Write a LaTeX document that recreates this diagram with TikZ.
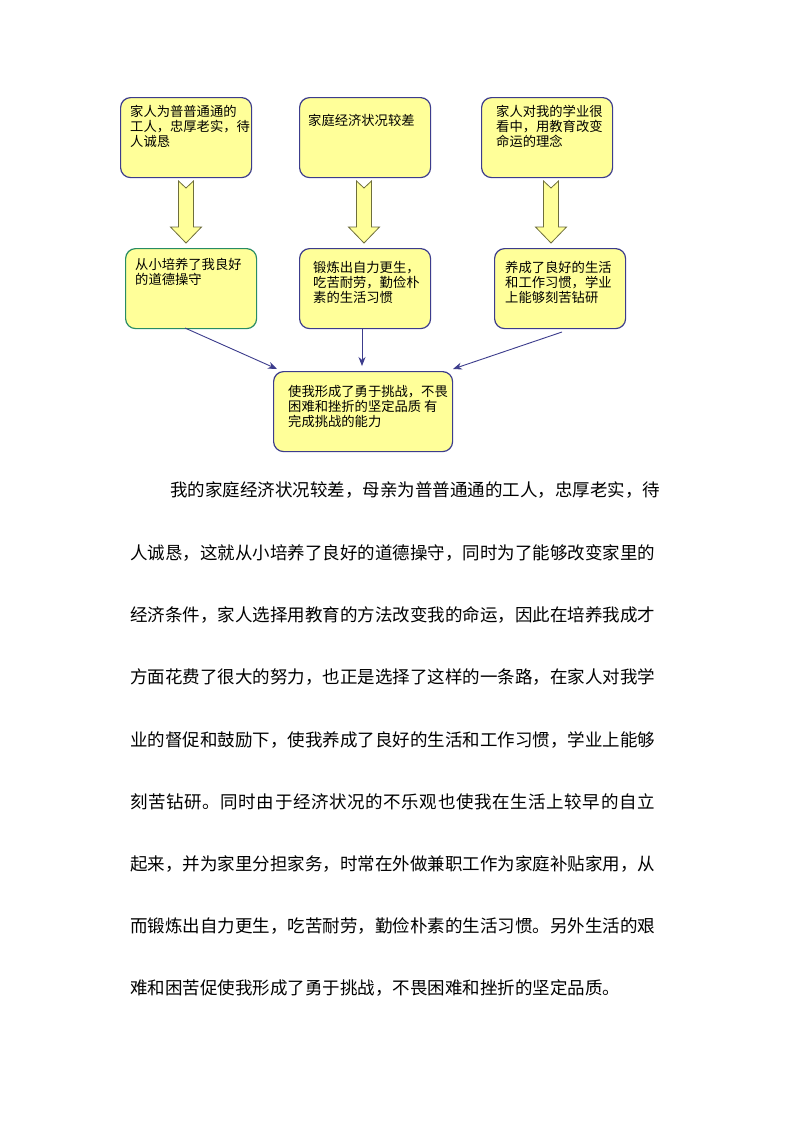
\documentclass[tikz,border=0pt]{standalone}
\usepackage{fontspec}
\newfontfamily\cjk{Noto Sans CJK SC}
\newfontfamily\cjkwide{Noto Sans CJK SC}[LetterSpace=3.5]
\usetikzlibrary{arrows.meta}
\definecolor{boxfill}{RGB}{255,255,153}
\definecolor{boxline}{RGB}{60,60,140}
\definecolor{greenline}{RGB}{40,140,100}
\definecolor{arrline}{RGB}{110,110,60}
\tikzset{
  box/.style={draw=boxline, line width=1.2pt, fill=boxfill, rounded corners=10pt, minimum width=131pt, minimum height=80pt, anchor=north west, inner sep=0pt},
  boxtxt/.style={anchor=north west, align=left, font=\cjk\fontsize{13.3}{15}\selectfont, inner sep=0pt},
  para/.style={anchor=west, font=\cjk\fontsize{17.5}{17.5}\selectfont, inner sep=0pt},
  conn/.style={draw=boxline, line width=0.9pt, -{Stealth[length=9pt,width=7pt]}},
  blockarr/.style={draw=arrline, fill=boxfill, line width=0.8pt}
}
\begin{document}
\begin{tikzpicture}[x=1pt,y=-1pt]
\useasboundingbox[fill=white] (0,0) rectangle (800,1133);
% top row
\node[box] (b1) at (120,97) {};
\node[box] (b2) at (299,97) {};
\node[box] (b3) at (481,97) {};
\node[boxtxt] (t1) at (130,105) {家人为普普通通的\\工人，忠厚老实，待\\人诚恳};
\node[boxtxt] (t2) at (308,114) {家庭经济状况较差};
\node[boxtxt] (t3) at (496,105) {家人对我的学业很\\看中，用教育改变\\命运的理念};
% middle row
\node[box, draw=greenline] (b4) at (125,248) {};
\node[box] (b5) at (299,248) {};
\node[box] (b6) at (494,248) {};
\node[boxtxt] (t4) at (135,258) {从小培养了我良好\\的道德操守};
\node[boxtxt] (t5) at (313,261) {锻炼出自力更生，\\吃苦耐劳，勤俭朴\\素的生活习惯};
\node[boxtxt] (t6) at (505,261) {养成了良好的生活\\和工作习惯，学业\\上能够刻苦钻研};
% bottom
\node[box, minimum width=179pt, minimum height=80pt] (b7) at (273,371) {};
\node[boxtxt] (t7) at (288,385) {使我形成了勇于挑战，不畏\\困难和挫折的坚定品质\ 有\\完成挑战的能力};
% block arrows
\foreach \cx/\nm in {186/a1,364/a2,551/a3}{
  \draw[blockarr] (\cx-7.5,181) -- (\cx,188) -- (\cx+7.5,181) -- (\cx+7.5,227) -- (\cx+15.5,227) -- (\cx,243) -- (\cx-15.5,227) -- (\cx-7.5,227) -- cycle;
}
% connectors
\coordinate (s1) at (185,328);
\coordinate (e1) at (277,369);
\coordinate (s2) at (362,328);
\coordinate (e2) at (362,366);
\coordinate (s3) at (562,332);
\coordinate (e3) at (453,369);
\draw[conn] (s1) -- (e1);
\draw[conn] (s2) -- (e2);
\draw[conn] (s3) -- (e3);
% paragraph
\node[para] (p1) at (170,490) {我的家庭经济状况较差，母亲为普普通通的工人，忠厚老实，待};
\node[para] (p2) at (130,553) {人诚恳，这就从小培养了良好的道德操守，同时为了能够改变家里的};
\node[para] (p3) at (130,615) {经济条件，家人选择用教育的方法改变我的命运，因此在培养我成才};
\node[para] (p4) at (130,677) {方面花费了很大的努力，也正是选择了这样的一条路，在家人对我学};
\node[para] (p5) at (130,740) {业的督促和鼓励下，使我养成了良好的生活和工作习惯，学业上能够};
\node[para, font=\cjkwide\fontsize{17.5}{17.5}\selectfont] (p6) at (130,802) {刻苦钻研。同时由于经济状况的不乐观也使我在生活上较早的自立};
\node[para] (p7) at (130,864) {起来，并为家里分担家务，时常在外做兼职工作为家庭补贴家用，从};
\node[para] (p8) at (130,926) {而锻炼出自力更生，吃苦耐劳，勤俭朴素的生活习惯。另外生活的艰};
\node[para] (p9) at (130,988) {难和困苦促使我形成了勇于挑战，不畏困难和挫折的坚定品质。};
\end{tikzpicture}
\end{document}
